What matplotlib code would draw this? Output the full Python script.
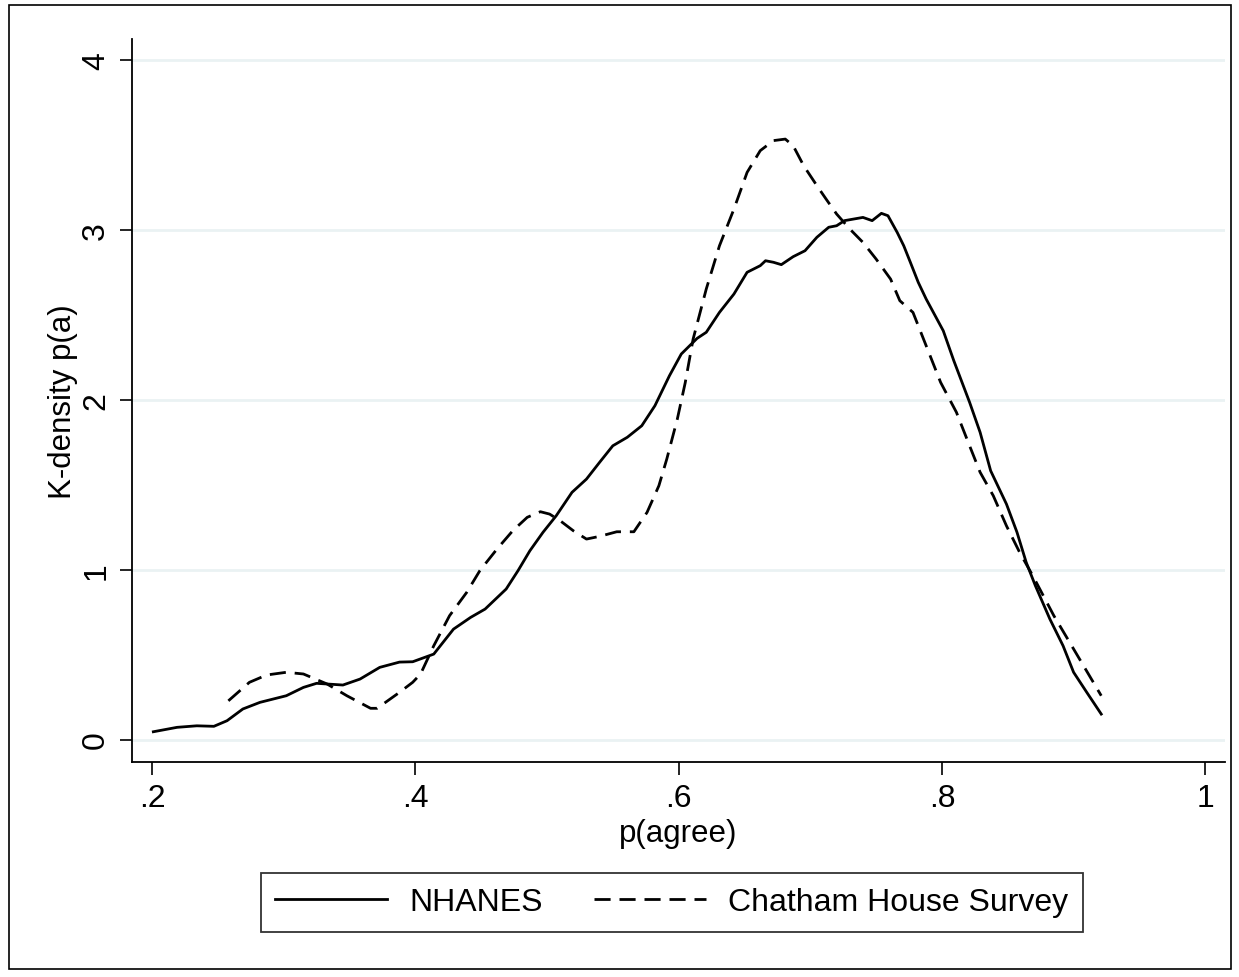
import matplotlib
matplotlib.use("Agg")
import matplotlib.pyplot as plt
from matplotlib.patches import Rectangle
from matplotlib.lines import Line2D

plt.rcParams['font.family'] = ['Liberation Sans', 'DejaVu Sans']

# NHANES kernel density
nh_x = [0.201, 0.219, 0.234, 0.247, 0.257, 0.269, 0.282, 0.302, 0.315, 0.325,
        0.345, 0.358, 0.373, 0.388, 0.398, 0.414, 0.429, 0.442, 0.453, 0.469,
        0.478, 0.487, 0.497, 0.507, 0.519, 0.530, 0.540, 0.550, 0.561, 0.572,
        0.582, 0.593, 0.602, 0.614, 0.621, 0.631, 0.642, 0.652, 0.662, 0.666,
        0.672, 0.678, 0.687, 0.696, 0.705, 0.714, 0.720, 0.726, 0.740, 0.747,
        0.754, 0.759, 0.766, 0.771, 0.776, 0.782, 0.788, 0.801, 0.809, 0.821,
        0.829, 0.837, 0.849, 0.857, 0.864, 0.871, 0.882, 0.892, 0.900, 0.910,
        0.921]
nh_y = [0.046, 0.072, 0.081, 0.078, 0.111, 0.180, 0.219, 0.258, 0.307, 0.331,
        0.321, 0.356, 0.425, 0.456, 0.458, 0.503, 0.650, 0.719, 0.768, 0.886,
        0.994, 1.111, 1.220, 1.317, 1.455, 1.533, 1.632, 1.729, 1.779, 1.847,
        1.965, 2.141, 2.269, 2.361, 2.397, 2.514, 2.622, 2.750, 2.789, 2.818,
        2.809, 2.795, 2.842, 2.877, 2.956, 3.015, 3.024, 3.054, 3.073, 3.054,
        3.097, 3.083, 2.985, 2.906, 2.809, 2.691, 2.593, 2.406, 2.230, 1.985,
        1.808, 1.582, 1.386, 1.220, 1.043, 0.905, 0.709, 0.552, 0.396, 0.278,
        0.150]

# Chatham House Survey kernel density
ch_x = [0.258, 0.274, 0.287, 0.302, 0.315, 0.333, 0.348, 0.366, 0.371, 0.388,
        0.398, 0.404, 0.414, 0.426, 0.439, 0.449, 0.462, 0.474, 0.485, 0.495,
        0.502, 0.510, 0.520, 0.530, 0.540, 0.553, 0.566, 0.576, 0.585, 0.591,
        0.599, 0.605, 0.611, 0.621, 0.631, 0.642, 0.652, 0.662, 0.672, 0.681,
        0.687, 0.695, 0.705, 0.712, 0.720, 0.730, 0.740, 0.750, 0.761, 0.768,
        0.778, 0.788, 0.799, 0.811, 0.821, 0.829, 0.839, 0.849, 0.859, 0.869,
        0.885, 0.900, 0.912, 0.921]
ch_y = [0.228, 0.337, 0.380, 0.396, 0.386, 0.327, 0.258, 0.184, 0.184, 0.278,
        0.337, 0.386, 0.552, 0.729, 0.866, 0.994, 1.121, 1.229, 1.308, 1.341,
        1.327, 1.288, 1.229, 1.180, 1.196, 1.223, 1.223, 1.337, 1.494, 1.651,
        1.886, 2.100, 2.357, 2.652, 2.906, 3.122, 3.338, 3.466, 3.525, 3.534,
        3.495, 3.377, 3.260, 3.181, 3.093, 3.005, 2.926, 2.828, 2.710, 2.583,
        2.514, 2.318, 2.102, 1.926, 1.729, 1.573, 1.435, 1.258, 1.102, 0.964,
        0.729, 0.533, 0.376, 0.258]

x_ticks = [0.2, 0.4, 0.6, 0.8, 1.0]
x_tick_labels = ['.2', '.4', '.6', '.8', '1']
y_ticks = [0, 1, 2, 3, 4]
y_tick_labels = ['0', '1', '2', '3', '4']
series_labels = ['NHANES', 'Chatham House Survey']

W, H = 1239, 978
fig = plt.figure(figsize=(W / 100, H / 100), dpi=100)
fig.patch.set_facecolor('white')

ax = fig.add_axes([132 / W, 1 - 763 / H, (1225 - 132) / W, (763 - 40) / H])
ax.set_xlim(0.1848, 1.015)
ax.set_ylim(-0.132, 4.123)

for y in y_ticks:
    ax.axhline(y, color='#EAF2F3', lw=2.0, zorder=0)

lw = 2.0
dash = (0, (5.8, 3.2))
ax.plot(nh_x, nh_y, color='black', lw=lw, solid_joinstyle='round', zorder=3)
ax.plot(ch_x, ch_y, color='black', lw=lw, linestyle=dash, zorder=3)

for s in ['top', 'right']:
    ax.spines[s].set_visible(False)
for s in ['left', 'bottom']:
    ax.spines[s].set_linewidth(1.3)

ax.set_xticks(x_ticks)
ax.set_xticklabels(x_tick_labels)
ax.set_yticks(y_ticks)
ax.set_yticklabels(y_tick_labels, rotation=90, va='center')
ax.tick_params(axis='both', direction='out', length=9, width=1.2,
               labelsize=23, colors='black')
ax.tick_params(axis='x', pad=6)
ax.tick_params(axis='y', pad=6)

ax.set_xlabel('p(agree)', fontsize=22.5, labelpad=4)
ax.set_ylabel('K-density p(a)', fontsize=22.5, labelpad=2)

handles = [Line2D([], [], color='black', lw=lw),
           Line2D([], [], color='black', lw=lw, linestyle=dash)]
leg = fig.legend(handles, series_labels, loc='center',
                 bbox_to_anchor=(672 / W, 1 - 903.5 / H), ncol=2,
                 fontsize=23, frameon=True, fancybox=False, edgecolor='black',
                 handlelength=3.5, handletextpad=0.7, columnspacing=1.6,
                 borderpad=0.45)
leg.get_frame().set_linewidth(1.3)

fig.patches.append(Rectangle((9 / W, 1 - 970 / H), (1231 - 9) / W, (970 - 6) / H,
                             transform=fig.transFigure, fill=False,
                             edgecolor='black', lw=1.2))

fig.savefig('out.png', dpi=100)
